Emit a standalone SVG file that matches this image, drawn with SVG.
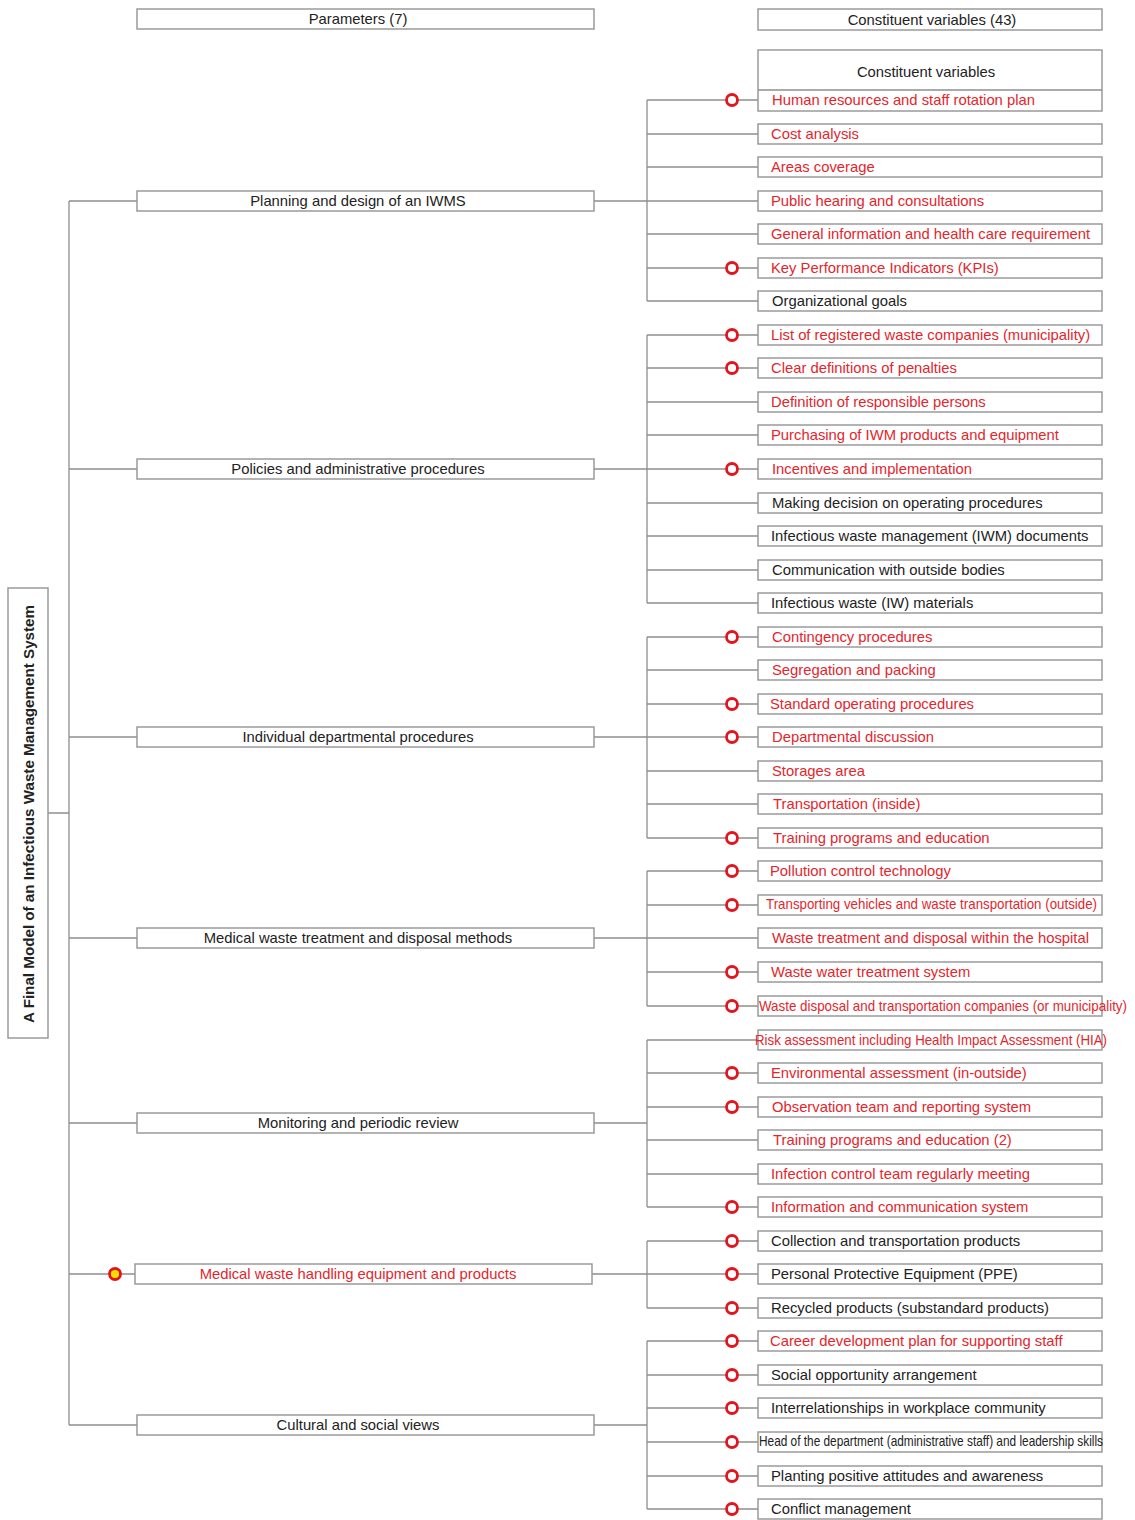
<svg xmlns="http://www.w3.org/2000/svg" width="1135" height="1520" viewBox="0 0 1135 1520">
<style>
.box{fill:#fff;stroke:#9a9a9a;stroke-width:1.5}
.ln{stroke:#8e8e8e;stroke-width:1.3;fill:none}
.t{font-family:"Liberation Sans",Arial,sans-serif;font-size:14.8px}
.c{text-anchor:middle}
.r{fill:#e3262d}
.k{fill:#222}
.ring{fill:#fff;stroke:#e3141e;stroke-width:2.8}
.yel{fill:#f2e000;stroke:#e3141e;stroke-width:2.8}
</style>
<rect width="1135" height="1520" fill="#fff"/>

<g id="connectors">
  <path class="ln" d="M69,201 V1425 M48,813 H69 M69,201 H137 M69,469 H137 M69,737 H137 M69,938 H137 M69,1123 H137 M69,1274 H135 M69,1425 H137"/>
  <path class="ln" d="M594,201 H647 M647,100 V301 M647,100 H758 M647,134 H758 M647,167 H758 M647,201 H758 M647,234 H758 M647,268 H758 M647,301 H758"/>
  <path class="ln" d="M594,469 H647 M647,335 V603 M647,335 H758 M647,368 H758 M647,402 H758 M647,435 H758 M647,469 H758 M647,503 H758 M647,536 H758 M647,570 H758 M647,603 H758"/>
  <path class="ln" d="M594,737 H647 M647,637 V838 M647,637 H758 M647,670 H758 M647,704 H758 M647,737 H758 M647,771 H758 M647,804 H758 M647,838 H758"/>
  <path class="ln" d="M594,938 H647 M647,871 V1006 M647,871 H758 M647,905 H758 M647,938 H758 M647,972 H758 M647,1006 H758"/>
  <path class="ln" d="M594,1123 H647 M647,1040 V1207 M647,1040 H758 M647,1073 H758 M647,1107 H758 M647,1140 H758 M647,1174 H758 M647,1207 H758"/>
  <path class="ln" d="M592,1274 H647 M647,1241 V1308 M647,1241 H758 M647,1274 H758 M647,1308 H758"/>
  <path class="ln" d="M594,1425 H647 M647,1341 V1509 M647,1341 H758 M647,1375 H758 M647,1408 H758 M647,1442 H758 M647,1476 H758 M647,1509 H758"/>
  <g id="markers">
    <circle class="ring" cx="732" cy="100" r="5.5"/>
    <circle class="ring" cx="732" cy="268" r="5.5"/>
    <circle class="ring" cx="732" cy="335" r="5.5"/>
    <circle class="ring" cx="732" cy="368" r="5.5"/>
    <circle class="ring" cx="732" cy="469" r="5.5"/>
    <circle class="ring" cx="732" cy="637" r="5.5"/>
    <circle class="ring" cx="732" cy="704" r="5.5"/>
    <circle class="ring" cx="732" cy="737" r="5.5"/>
    <circle class="ring" cx="732" cy="838" r="5.5"/>
    <circle class="ring" cx="732" cy="871" r="5.5"/>
    <circle class="ring" cx="732" cy="905" r="5.5"/>
    <circle class="ring" cx="732" cy="972" r="5.5"/>
    <circle class="ring" cx="732" cy="1006" r="5.5"/>
    <circle class="ring" cx="732" cy="1073" r="5.5"/>
    <circle class="ring" cx="732" cy="1107" r="5.5"/>
    <circle class="ring" cx="732" cy="1207" r="5.5"/>
    <circle class="ring" cx="732" cy="1241" r="5.5"/>
    <circle class="ring" cx="732" cy="1274" r="5.5"/>
    <circle class="ring" cx="732" cy="1308" r="5.5"/>
    <circle class="ring" cx="732" cy="1341" r="5.5"/>
    <circle class="ring" cx="732" cy="1375" r="5.5"/>
    <circle class="ring" cx="732" cy="1408" r="5.5"/>
    <circle class="ring" cx="732" cy="1442" r="5.5"/>
    <circle class="ring" cx="732" cy="1476" r="5.5"/>
    <circle class="ring" cx="732" cy="1509" r="5.5"/>
    <circle class="yel" cx="115" cy="1274" r="5.5"/>
  </g>
</g>

<g id="hdr-params"><rect class="box" x="137" y="9" width="457" height="20"/><text class="t c k" x="358" y="24">Parameters (7)</text></g>
<g id="hdr-vars"><rect class="box" x="758" y="9" width="344" height="21"/><text class="t c k" x="932" y="24.5">Constituent variables (43)</text></g>

<g id="root"><rect class="box" x="8" y="588" width="40" height="450"/><text class="t c k" font-weight="bold" transform="translate(34,814) rotate(-90)" textLength="418" lengthAdjust="spacingAndGlyphs">A Final Model of an Infectious Waste Management System</text></g>

<g id="p1"><rect class="box" x="137" y="191" width="457" height="20"/><text class="t c k" x="358" y="206">Planning and design of an IWMS</text></g>
<g id="p2"><rect class="box" x="137" y="459" width="457" height="20"/><text class="t c k" x="358" y="474">Policies and administrative procedures</text></g>
<g id="p3"><rect class="box" x="137" y="727" width="457" height="20"/><text class="t c k" x="358" y="742">Individual departmental procedures</text></g>
<g id="p4"><rect class="box" x="137" y="928" width="457" height="20"/><text class="t c k" x="358" y="943">Medical waste treatment and disposal methods</text></g>
<g id="p5"><rect class="box" x="137" y="1113" width="457" height="20"/><text class="t c k" x="358" y="1128">Monitoring and periodic review</text></g>
<g id="p6"><rect class="box" x="135" y="1264" width="457" height="20"/><text class="t c r" x="358" y="1279">Medical waste handling equipment and products</text></g>
<g id="p7"><rect class="box" x="137" y="1415" width="457" height="20"/><text class="t c k" x="358" y="1430">Cultural and social views</text></g>

<g id="v-header"><rect class="box" x="758" y="50" width="344" height="61"/><line class="ln" x1="758" y1="90" x2="1102" y2="90"/><text class="t c k" x="926" y="77">Constituent variables</text></g>
<g id="v1"><text class="t r" x="772" y="105">Human resources and staff rotation plan</text></g>
<g id="v2"><rect class="box" x="758" y="124" width="344" height="20"/><text class="t r" x="771" y="139">Cost analysis</text></g>
<g id="v3"><rect class="box" x="758" y="157" width="344" height="20"/><text class="t r" x="771" y="172">Areas coverage</text></g>
<g id="v4"><rect class="box" x="758" y="191" width="344" height="20"/><text class="t r" x="771" y="206">Public hearing and consultations</text></g>
<g id="v5"><rect class="box" x="758" y="224" width="344" height="20"/><text class="t r" x="771" y="239">General information and health care requirement</text></g>
<g id="v6"><rect class="box" x="758" y="258" width="344" height="20"/><text class="t r" x="771" y="273">Key Performance Indicators (KPIs)</text></g>
<g id="v7"><rect class="box" x="758" y="291" width="344" height="20"/><text class="t k" x="772" y="306">Organizational goals</text></g>
<g id="v8"><rect class="box" x="758" y="325" width="344" height="20"/><text class="t r" x="771" y="340">List of registered waste companies (municipality)</text></g>
<g id="v9"><rect class="box" x="758" y="358" width="344" height="20"/><text class="t r" x="771" y="373">Clear definitions of penalties</text></g>
<g id="v10"><rect class="box" x="758" y="392" width="344" height="20"/><text class="t r" x="771" y="407">Definition of responsible persons</text></g>
<g id="v11"><rect class="box" x="758" y="425" width="344" height="20"/><text class="t r" x="771" y="440">Purchasing of IWM products and equipment</text></g>
<g id="v12"><rect class="box" x="758" y="459" width="344" height="20"/><text class="t r" x="772" y="474">Incentives and implementation</text></g>
<g id="v13"><rect class="box" x="758" y="493" width="344" height="20"/><text class="t k" x="772" y="508">Making decision on operating procedures</text></g>
<g id="v14"><rect class="box" x="758" y="526" width="344" height="20"/><text class="t k" x="771" y="541">Infectious waste management (IWM) documents</text></g>
<g id="v15"><rect class="box" x="758" y="560" width="344" height="20"/><text class="t k" x="772" y="575">Communication with outside bodies</text></g>
<g id="v16"><rect class="box" x="758" y="593" width="344" height="20"/><text class="t k" x="771" y="608">Infectious waste (IW) materials</text></g>
<g id="v17"><rect class="box" x="758" y="627" width="344" height="20"/><text class="t r" x="772" y="642">Contingency procedures</text></g>
<g id="v18"><rect class="box" x="758" y="660" width="344" height="20"/><text class="t r" x="772" y="675">Segregation and packing</text></g>
<g id="v19"><rect class="box" x="758" y="694" width="344" height="20"/><text class="t r" x="770" y="709">Standard operating procedures</text></g>
<g id="v20"><rect class="box" x="758" y="727" width="344" height="20"/><text class="t r" x="772" y="742">Departmental discussion</text></g>
<g id="v21"><rect class="box" x="758" y="761" width="344" height="20"/><text class="t r" x="772" y="776">Storages area</text></g>
<g id="v22"><rect class="box" x="758" y="794" width="344" height="20"/><text class="t r" x="773" y="809">Transportation (inside)</text></g>
<g id="v23"><rect class="box" x="758" y="828" width="344" height="20"/><text class="t r" x="773" y="843">Training programs and education</text></g>
<g id="v24"><rect class="box" x="758" y="861" width="344" height="20"/><text class="t r" x="770" y="876">Pollution control technology</text></g>
<g id="v25"><rect class="box" x="758" y="895" width="344" height="20"/><text class="t r" x="766" y="909" font-size="13.3" textLength="331" lengthAdjust="spacingAndGlyphs">Transporting vehicles and waste transportation (outside)</text></g>
<g id="v26"><rect class="box" x="758" y="928" width="344" height="20"/><text class="t r" x="772" y="943">Waste treatment and disposal within the hospital</text></g>
<g id="v27"><rect class="box" x="758" y="962" width="344" height="20"/><text class="t r" x="771" y="977">Waste water treatment system</text></g>
<g id="v28"><rect class="box" x="758" y="996" width="344" height="20"/><text class="t r" x="759" y="1011" font-size="13.4" textLength="368" lengthAdjust="spacingAndGlyphs">Waste disposal and transportation companies (or municipality)</text></g>
<g id="v29"><rect class="box" x="758" y="1030" width="344" height="20"/><text class="t r" x="755" y="1045" font-size="13.3" textLength="352" lengthAdjust="spacingAndGlyphs">Risk assessment including Health Impact Assessment (HIA)</text></g>
<g id="v30"><rect class="box" x="758" y="1063" width="344" height="20"/><text class="t r" x="771" y="1078">Environmental assessment (in-outside)</text></g>
<g id="v31"><rect class="box" x="758" y="1097" width="344" height="20"/><text class="t r" x="772" y="1112">Observation team and reporting system</text></g>
<g id="v32"><rect class="box" x="758" y="1130" width="344" height="20"/><text class="t r" x="773" y="1145">Training programs and education (2)</text></g>
<g id="v33"><rect class="box" x="758" y="1164" width="344" height="20"/><text class="t r" x="771" y="1179">Infection control team regularly meeting</text></g>
<g id="v34"><rect class="box" x="758" y="1197" width="344" height="20"/><text class="t r" x="771" y="1212">Information and communication system</text></g>
<g id="v35"><rect class="box" x="758" y="1231" width="344" height="20"/><text class="t k" x="771" y="1246">Collection and transportation products</text></g>
<g id="v36"><rect class="box" x="758" y="1264" width="344" height="20"/><text class="t k" x="771" y="1279">Personal Protective Equipment (PPE)</text></g>
<g id="v37"><rect class="box" x="758" y="1298" width="344" height="20"/><text class="t k" x="771" y="1313">Recycled products (substandard products)</text></g>
<g id="v38"><rect class="box" x="758" y="1331" width="344" height="20"/><text class="t r" x="770" y="1346">Career development plan for supporting staff</text></g>
<g id="v39"><rect class="box" x="758" y="1365" width="344" height="20"/><text class="t k" x="771" y="1380">Social opportunity arrangement</text></g>
<g id="v40"><rect class="box" x="758" y="1398" width="344" height="20"/><text class="t k" x="771" y="1413">Interrelationships in workplace community</text></g>
<g id="v41"><rect class="box" x="758" y="1432" width="344" height="20"/><text class="t k" x="759" y="1446" font-size="11.6" textLength="344" lengthAdjust="spacingAndGlyphs">Head of the department (administrative staff) and leadership skills</text></g>
<g id="v42"><rect class="box" x="758" y="1466" width="344" height="20"/><text class="t k" x="771" y="1481">Planting positive attitudes and awareness</text></g>
<g id="v43"><rect class="box" x="758" y="1499" width="344" height="20"/><text class="t k" x="771" y="1514">Conflict management</text></g>
</svg>
